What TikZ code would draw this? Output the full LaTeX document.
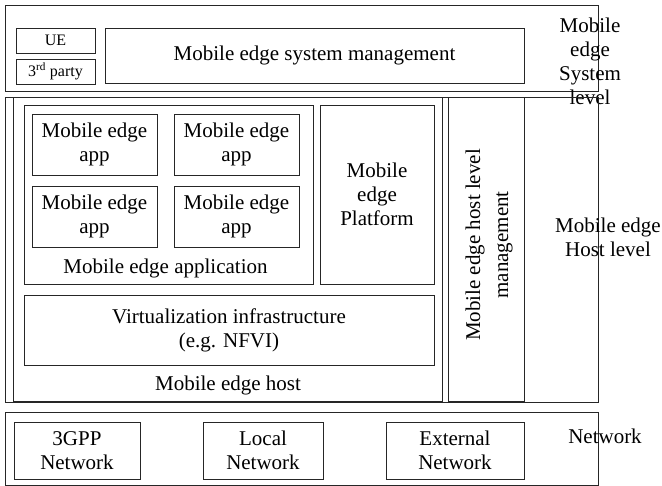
\documentclass[tikz,border=0pt]{standalone}
\usepackage{fontspec}
\setmainfont{Liberation Serif}
\usepackage{tikz}
\usetikzlibrary{positioning,calc}

\tikzset{
  blk/.style 2 args={draw=black!85,line width=0.8pt,minimum width=#1,minimum height=#2,inner sep=0pt,align=center},
  lbl/.style={align=center,inner sep=0pt},
}

\begin{document}
\begin{tikzpicture}[x=1pt,y=-1pt,font=\fontsize{21}{24}\selectfont]
\useasboundingbox (0,0) rectangle (662,486);
% system level
\node[blk={593pt}{86pt}] (sys) at (301.5,48) {};
\node[blk={79pt}{25pt},font=\fontsize{16}{18}\selectfont] (ue) at (55.5,40.5) {UE};
\node[blk={79pt}{25pt},font=\fontsize{16}{18}\selectfont] (third) at (55.5,71.5) {3\textsuperscript{rd} party};
\node[blk={419pt}{55pt}] (mesm) at (314.5,55.5) {Mobile edge system management};
\node[lbl] (sys level) at (590,61) {Mobile\\edge\\System\\level};

% host level
\node[blk={593pt}{305pt}] (host level) at (301.5,249.5) {};
\node[blk={429pt}{304pt}] (host) at (227.5,249) {};
\node[blk={289pt}{179pt}] (meapp) at (168.5,194.5) {};
\node[blk={125pt}{61pt}] (app1) at (94.5,144.5) {Mobile edge\\app};
\node[blk={125pt}{61pt}] (app2) at (236.5,144.5) {Mobile edge\\app};
\node[blk={125pt}{61pt}] (app3) at (94.5,216.5) {Mobile edge\\app};
\node[blk={125pt}{61pt}] (app4) at (236.5,216.5) {Mobile edge\\app};
\node[lbl,below=11pt of $(app3.south west)!0.5!(app4.south east)$] (meapp label) {Mobile edge application};
\node[blk={114pt}{179pt}] (platform) at (377,194.5) {Mobile\\edge\\Platform};
\node[blk={410pt}{70pt}] (virt) at (229,330) {Virtualization infrastructure\\(e.g. NFVI)};
\node[lbl] (host label) at (228,385) {Mobile edge host};
\node[blk={76pt}{304pt}] (mgmt) at (486,249) {};
\node[lbl,rotate=90,font=\fontsize{21}{28}\selectfont] (mgmt label) at ($(mgmt.center)+(3,-4)$) {Mobile edge host level\\management};
\node[lbl] (host lvl label) at (608,237) {Mobile edge\\Host level};

% network
\node[blk={593pt}{73pt}] (net) at (301.5,448.5) {};
\node[blk={126pt}{57pt}] (gpp) at (77,450.5) {3GPP\\Network};
\node[blk={120pt}{57pt}] (local) at (263,450.5) {Local\\Network};
\node[blk={138pt}{57pt}] (ext) at (455,450.5) {External\\Network};
\node[lbl] (net label) at (605,436) {Network};
\end{tikzpicture}
\end{document}
